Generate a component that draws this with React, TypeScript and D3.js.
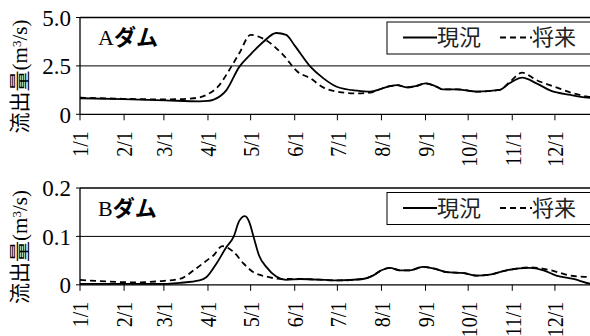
import React from 'react';
import * as d3 from 'd3';

// day-of-year readings (Jan 1 = 0)
const monthTicks = [0, 31, 59, 90, 120, 151, 181, 212, 243, 273, 304, 334];
const monthLabels = ['1/1', '2/1', '3/1', '4/1', '5/1', '6/1', '7/1', '8/1', '9/1', '10/1', '11/1', '12/1'];

const aNowDays = [0, 30, 60, 84, 90, 94, 103, 112, 120, 129, 138, 145, 151, 162, 171, 181, 195, 204, 212, 218, 223, 230, 236, 243, 250, 255, 265, 279, 295, 302, 311, 321, 331, 345, 357, 365];
const aNowValues = [0.83, 0.78, 0.72, 0.67, 0.69, 0.76, 1.25, 2.45, 3.1, 3.75, 4.2, 4.1, 3.55, 2.46, 1.87, 1.41, 1.22, 1.17, 1.32, 1.45, 1.51, 1.39, 1.45, 1.6, 1.45, 1.29, 1.29, 1.17, 1.26, 1.6, 1.89, 1.6, 1.22, 1.0, 0.86, 0.82];

const aFutureDays = [0, 30, 61, 80, 89, 98, 105, 112, 120, 129, 143, 153, 162, 171, 181, 195, 204, 212, 218, 223, 230, 236, 243, 250, 255, 265, 279, 295, 302, 311, 321, 335, 347, 357, 365];
const aFutureValues = [0.86, 0.8, 0.77, 0.83, 1.0, 1.51, 2.29, 3.15, 4.1, 3.9, 3.06, 2.2, 1.86, 1.39, 1.17, 1.08, 1.12, 1.32, 1.45, 1.51, 1.39, 1.45, 1.6, 1.45, 1.29, 1.29, 1.17, 1.26, 1.65, 2.15, 1.77, 1.39, 1.08, 0.91, 0.86];

const bNowDays = [0, 60, 70, 84, 89, 96, 103, 108, 112, 116, 119, 122, 126, 131, 138, 145, 155, 181, 199, 206, 212, 218, 225, 232, 241, 251, 258, 270, 279, 288, 300, 316, 326, 335, 347, 359, 365];
const bNowValues = [0.002, 0.002, 0.004, 0.009, 0.016, 0.044, 0.078, 0.099, 0.132, 0.142, 0.13, 0.1, 0.06, 0.037, 0.017, 0.01, 0.012, 0.009, 0.012, 0.019, 0.03, 0.035, 0.03, 0.03, 0.037, 0.032, 0.026, 0.024, 0.019, 0.021, 0.03, 0.035, 0.03, 0.019, 0.012, 0.002, 0.0];

const bFutureDays = [0, 14, 42, 56, 70, 80, 89, 94, 100, 108, 115, 122, 131, 143, 155, 181, 199, 206, 212, 218, 225, 232, 241, 251, 258, 270, 279, 288, 300, 316, 326, 331, 345, 357, 365];
const bFutureValues = [0.01, 0.0075, 0.005, 0.0075, 0.012, 0.03, 0.05, 0.061, 0.08, 0.068, 0.044, 0.026, 0.017, 0.012, 0.012, 0.009, 0.012, 0.019, 0.03, 0.035, 0.03, 0.03, 0.037, 0.032, 0.026, 0.024, 0.019, 0.021, 0.03, 0.036, 0.033, 0.03, 0.019, 0.016, 0.013];

const aTicks = [0, 2.5, 5.0];
const aTickLabels = ['0', '2.5', '5.0'];
const bTicks = [0, 0.1, 0.2];
const bTickLabels = ['0', '0.1', '0.2'];

const serif = 'Liberation Serif';
const mixed = 'Liberation Serif, Noto Sans CJK JP';
const gothic = 'Noto Sans CJK JP';

type PanelProps = {
  top: number;
  name: string;
  max: number;
  ticks: number[];
  tickLabels: string[];
  now: [number[], number[]];
  future: [number[], number[]];
};

function Panel({ top, name, max, ticks, tickLabels, now, future }: PanelProps) {
  const left = 80;
  const h = 96.8;
  const bottom = top + h;
  const x = d3.scaleLinear().domain([0, 365]).range([left, 599]);
  const y = d3.scaleLinear().domain([0, max]).range([bottom, top]);
  const line = d3.line<[number, number]>()
    .x(d => x(d[0]))
    .y(d => y(d[1]))
    .curve(d3.curveMonotoneX);
  const pts = (s: [number[], number[]]) => s[0].map((d, i) => [d, s[1][i]] as [number, number]);

  return (
    <g>
      {ticks.slice(1).map((t, i) => (
        <line key={'g' + i} x1={left} x2={590} y1={y(t)} y2={y(t)} stroke="#000" strokeWidth={i === ticks.length - 2 ? 1.6 : 1} />
      ))}
      <path d={line(pts(future)) || ''} fill="none" stroke="#000" strokeWidth={1.8} strokeDasharray="6,4" />
      <path d={line(pts(now)) || ''} fill="none" stroke="#000" strokeWidth={1.8} />
      <line x1={left} x2={590} y1={bottom} y2={bottom} stroke="#000" strokeWidth={1.3} />
      <line x1={left} x2={left} y1={top} y2={bottom} stroke="#000" strokeWidth={1.3} />
      {ticks.map((t, i) => (
        <g key={'y' + i}>
          <line x1={left - 4} x2={left} y1={y(t)} y2={y(t)} stroke="#000" />
          <text x={left - 9} y={y(t)} dy="0.36em" textAnchor="end" fontFamily={serif} fontSize={23}>{tickLabels[i]}</text>
        </g>
      ))}
      {monthTicks.map((d, i) => (
        <g key={'x' + i}>
          <line x1={x(d)} x2={x(d)} y1={bottom} y2={bottom + 6} stroke="#000" />
          <text transform={`translate(${x(d)},${bottom + 17}) rotate(-90) scale(1,1.2)`} dy="0.35em" textAnchor="end" fontFamily={serif} fontSize={20}>{monthLabels[i]}</text>
        </g>
      ))}
      <text transform={`translate(20,${top + 59}) rotate(-90)`} dy="0.35em" textAnchor="middle" fontFamily={mixed} fontSize={21}>
        流出量(m<tspan fontSize={13} dy="-0.5em">3</tspan><tspan dy="0.3em">/s)</tspan>
      </text>
      <text x={98} y={top + 27.5} fontSize={22}>
        <tspan fontFamily={serif}>{name}</tspan><tspan fontFamily={gothic} fontWeight="bold">ダム</tspan>
      </text>
      <rect x={387} y={top + 4.5} width={220} height={32} fill="#fff" stroke="#000" strokeWidth={1} />
      <line x1={403} x2={437} y1={top + 20} y2={top + 20} stroke="#000" strokeWidth={1.8} />
      <text x={437} y={top + 20} dy="0.36em" fontFamily={gothic} fontSize={22} fill="#222">現況</text>
      <line x1={500} x2={532} y1={top + 20} y2={top + 20} stroke="#000" strokeWidth={1.8} strokeDasharray="6,4" />
      <text x={532} y={top + 20} dy="0.36em" fontFamily={gothic} fontSize={22} fill="#222">将来</text>
    </g>
  );
}

export default function App() {
  return (
    <svg width={590} height={336} style={{ position: 'absolute', left: 0, top: 0, background: '#fff' }}>
      <Panel top={17.5} name="A" max={5} ticks={aTicks} tickLabels={aTickLabels}
        now={[aNowDays, aNowValues]} future={[aFutureDays, aFutureValues]} />
      <Panel top={188} name="B" max={0.2} ticks={bTicks} tickLabels={bTickLabels}
        now={[bNowDays, bNowValues]} future={[bFutureDays, bFutureValues]} />
    </svg>
  );
}
